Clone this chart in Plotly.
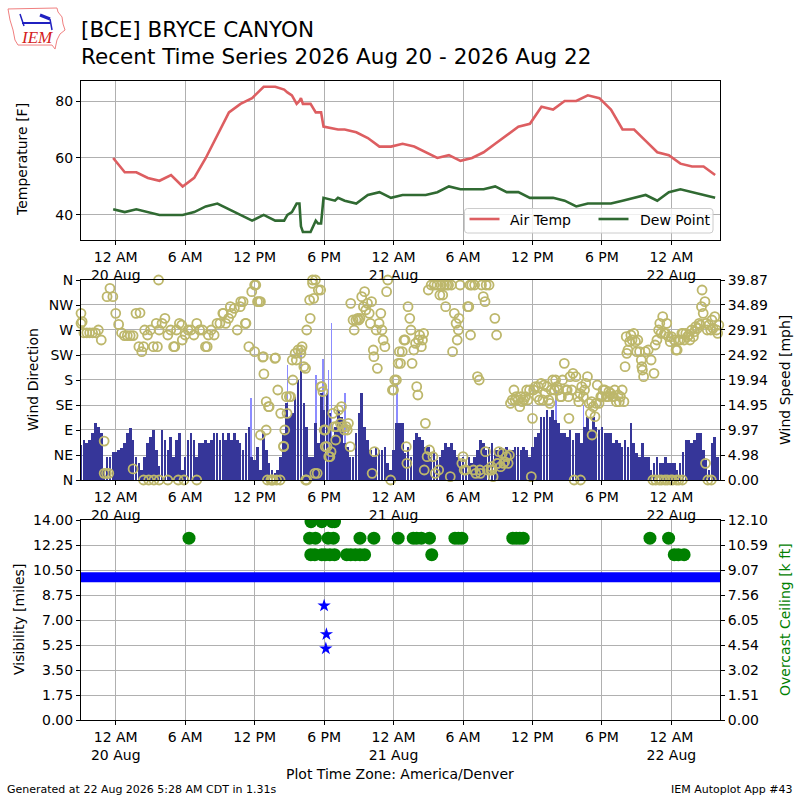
import pandas as pd
import plotly.graph_objects as go

BASE = pd.Timestamp("2026-08-20 00:00")
W, H = 800, 800

# ---------------- data (hours relative to 20 Aug 00:00 local) ----------------
temp_hours = [-0.22, 0.78, 1.78, 2.78, 3.78, 4.78, 5.78, 6.78, 7.78, 8.78, 9.78, 10.78,
              11.78, 12.78, 13.78, 14.55, 14.83, 15.22, 15.63, 15.87, 16.0, 16.17, 16.83,
              17.28, 17.48, 17.74, 17.95, 18.94, 19.2, 19.78, 20.78, 21.78, 22.78, 23.78,
              24.78, 25.78, 26.78, 27.78, 28.78, 29.78, 30.78, 31.78, 32.78, 33.78, 34.78,
              35.78, 36.78, 37.78, 38.78, 39.78, 40.78, 41.78, 42.78, 43.78, 44.78, 45.78,
              46.78, 47.78, 48.78, 49.78, 50.78, 51.78]
air_temp = [60, 55, 55, 53, 52, 54, 50, 53, 60, 68, 76, 79, 81, 85, 85,
            84, 83, 82, 79, 80, 81, 79, 79, 76, 76, 76, 71, 70, 70,
            70, 69, 67, 64, 64, 65, 64, 62, 60, 61, 59, 60, 62, 65, 68, 71, 72, 78, 77,
            80, 80, 82, 81, 77, 70, 70, 66, 62, 61, 58, 57, 57, 54]
dew_point = [42, 41, 42, 41, 40, 40, 40, 41, 43, 44, 42, 40, 38, 40, 38,
             38, 40, 41, 44, 44, 36, 34, 34, 38, 37, 37, 46, 45, 46,
             45, 44, 47, 48, 46, 47, 47, 47, 48, 50, 49, 49, 49, 50, 48, 48, 46, 46, 46,
             45, 43, 44, 44, 44, 45, 46, 47, 45, 48, 49, 48, 47, 46]

# wind: 15-minute samples starting 19 Aug 21:00
wind_start = "2026-08-19 21:00"
wind_speed = [
    7.0, 8.0, 7.3, 8.0,   9.3, 11.3, 10.6, 9.3,   2.0, 4.6, 4.6, 5.6,
    5.6, 6.0, 6.3, 7.3,   9.3, 10.3, 8.0, 4.6,    3.3, 2.0, 4.6, 7.3,
    8.6, 10.0, 6.0, 2.7,  10.0, 8.0, 6.0, 8.6,    4.6, 8.0, 9.3, 2.0,
    4.6, 8.0, 9.3, 8.0,   4.6, 7.3, 7.3, 8.0,     7.3, 8.0, 9.3, 9.3,
    8.0, 9.3, 8.0, 9.3,   8.0, 9.3, 8.0, 7.3,     6.0, 9.3, 10.6, 4.6,
    4.0, 6.6, 2.0, 9.3,   6.0, 3.3, 2.0, 1.3,     2.0, 4.6, 9.3, 15.3,
    12.6, 13.3, 16.6, 20.0, 22.6, 15.3, 10.6, 4.6, 4.6, 11.3, 7.3, 17.3,
    14.0, 17.3, 13.3, 8.6, 10.6, 14.0, 12.6, 7.3,  6.6, 4.6, 4.6, 9.3,
    13.3, 17.3, 10.6, 8.0, 6.0, 4.6, 6.6, 6.0,    6.0, 6.6, 3.3, 2.0,
    6.0, 11.3, 11.3, 11.3, 5.3, 6.6, 4.6, 8.0,    9.3, 8.6, 8.0, 6.6,
    6.6, 4.6, 6.0, 4.0,   4.6, 6.0, 7.3, 6.6,     7.3, 6.0, 4.6, 4.0,
    4.6, 4.0, 4.6, 3.3,   4.6, 6.0, 8.0, 7.3,     6.0, 6.6, 7.3, 6.0,
    6.0, 6.6, 6.0, 6.6,   6.0, 6.0, 6.6, 6.6,     6.0, 6.6, 6.0, 4.6,
    6.6, 8.6, 9.3, 12.6,  12.6, 14.0, 12.6, 14.0, 12.0, 11.3, 9.3, 9.3,
    8.6, 10.0, 8.0, 9.3,  9.3, 7.3, 10.6, 12.6,   10.0, 12.6, 10.6, 10.0,
    10.6, 9.3, 9.3, 9.3,  7.3, 8.0, 7.3, 6.6,     8.0, 6.6, 11.3, 7.3,
    5.3, 4.6, 7.3, 4.6,   4.6, 2.0, 3.3, 4.6,     3.3, 3.3, 4.6, 3.3,
    3.3, 3.3, 2.0, 3.3,   5.6, 8.0, 8.0, 7.3,     8.0, 9.3, 9.3, 6.0,
    4.0, 2.0, 7.3, 8.6,   4.6]
wind_dir = [
    282, 265, 265, 265,  265, 265, 270, 252,  70, 330, 345, 330,
    300, 280, 265, 260,  260, 260, 260, 300,  240, 231, 270, 261,
    270, 240, 282, 270,  282, 291, 261, 270,  240, 270, 282, 252,
    261, 270, 270, 261,  282, 270, 270, 240,  261, 270, 261, 282,
    282, 300, 282, 291,  300, 309, 270, 312,  321, 282, 240, 339,
    351, 321, 321, 222,  141, 132, 0, 219,    162, 120, 60, 150,
    150, 216, 228, 234,  228, 204, 0, 324,    354, 360, 342, 168,
    90, 60, 42, 120,     72, 126, 132, 90,    90, 60, 288, 288,
    288, 330, 339, 318,  282, 234, 270, 282,  270, 240, 360, 0,
    162, 180, 231, 231,  252, 312, 270, 234,  168, 261, 252, 102,
    342, 351, 351, 351,  333, 333, 312, 351,  351, 300, 252, 351,
    42, 18, 312, 351,    351, 186, 12, 330,   351, 351, 18, 291,
    30, 24, 30, 42,      45, 144, 144, 144,   150, 144, 162, 162,
    111, 168, 168, 174,  171, 168, 138, 180,  180, 162, 150, 210,
    162, 186, 192, 186,  141, 168, 162, 186,  120, 132, 138, 138,
    150, 162, 150, 156,  150, 141, 141, 162,  204, 234, 261, 264,
    231, 231, 198, 231,  234, 216, 192, 252,  282, 294, 264, 258,
    258, 252, 234, 252,  264, 264, 261, 270,  267, 273, 279, 300,
    282, 279, 288, 294,  264]

dir_extra_hours = [
    -3.0, -2.9, -1.0, -0.8, -0.6, 1.5, 2.1, 2.4, 2.4, 2.85, 3.3, 3.6, 3.7, 3.75, 4.5,
    5.1, 5.4, 5.7, 5.9, 7.0, 7.9, 9.3, 9.9, 10.8, 11.2, 12.0, 12.1, 12.4, 12.5, 12.7,
    12.8, 13.0, 13.1, 13.2, 13.4, 13.6, 13.8, 13.9, 14.2, 14.5, 14.6, 14.8, 15.1, 15.3,
    15.6, 16.0, 16.1, 16.4, 16.4, 16.5, 16.8, 17.0, 17.1, 17.2, 17.4, 17.7, 17.8, 17.9,
    18.1, 18.1, 18.4, 18.6, 18.9, 19.1, 19.4, 19.6, 19.9, 20.1, 20.3, 20.6, 20.9, 21.1,
    21.4, 21.6, 21.9, 22.1, 22.15, 22.3, 22.35, 22.6, 22.9, 23.1, 23.4, 23.9, 24.1,
    24.4, 24.6, 24.9, 25.1, 25.15, 25.4, 25.6, 25.9, 26.1, 26.15, 26.4, 26.6, 26.65,
    26.9, 27.1, 27.4, 27.6, 27.9, 28.1, 28.4, 28.6, 28.9, 29.1, 29.4, 29.6, 29.65,
    29.9, 30.1, 30.4, 30.6, 30.65, 30.9, 31.1, 31.4, 31.45, 31.6, 31.9, 31.95, 32.1,
    32.4, 32.45, 32.6, 32.9, 32.95, 33.1, 33.4, 33.6, 33.9, 34.1, 34.4, 34.6, 34.9,
    35.1, 35.4, 35.6, 35.9, 36.1, 36.4, 36.6, 36.9, 37.1, 37.4, 37.6, 37.9, 38.1,
    38.4, 38.6, 38.9, 39.1, 39.15, 39.4, 39.6, 39.9, 40.1, 40.15, 40.4, 40.6, 40.9,
    41.1, 41.15, 41.4, 41.6, 41.9, 42.1, 42.4, 42.6, 42.9, 43.1, 43.4, 43.6, 43.9,
    44.1, 44.15, 44.4, 44.6, 44.9, 45.1, 45.4, 45.45, 45.6, 46.4, 46.6, 46.65, 46.9,
    46.95, 47.1, 47.15, 47.4, 47.45, 47.6, 47.65, 47.9, 47.95, 48.1, 48.4, 48.45,
    48.6, 48.65, 48.9, 48.95, 49.1, 49.4, 49.6, 49.9, 50.1, 50.4, 50.6, 50.65, 50.9,
    50.95, 51.1, 51.15, 51.4, 51.45, 51.6, 51.9, 52.1]
dir_extra_deg = [
    300, 285, 12, 12, 12, 20, 301, 0, 240, 0, 0, 240, 360, 0, 0,
    240, 0, 279, 0, 0, 240, 300, 312, 321, 282, 231, 351, 321, 81, 221,
    191, 90, 0, 132, 0, 0, 220, 0, 0, 61, 90, 120, 150, 180,
    216, 234, 240, 201, 0, 270, 291, 360, 327, 12, 12, 342, 168, 159,
    90, 60, 42, 51, 96, 96, 102, 96, 96, 102, 318, 270, 291, 291,
    312, 306, 300, 321, 12, 222, 51, 201, 300, 252, 339, 162, 180,
    210, 210, 252, 60, 30, 291, 210, 246, 153, 252, 240, 264, 18,
    42, 54, 42, 12, 18, 351, 351, 351, 6, 231, 282, 270, 291,
    30, 18, 312, 351, 261, 18, 12, 180, 18, 351, 321, 51, 18,
    18, 24, 6, 261, 30, 51, 48, 33, 30, 138, 162, 150, 132,
    141, 150, 144, 6, 162, 150, 144, 144, 156, 144, 162, 162, 168,
    150, 180, 162, 150, 111, 162, 0, 150, 156, 0, 150, 174, 138,
    141, 81, 114, 171, 150, 162, 150, 159, 150, 162, 153, 150, 141,
    258, 228, 249, 252, 249, 252, 216, 204, 186, 0, 243, 0, 270,
    0, 264, 0, 264, 0, 282, 0, 249, 0, 0, 234, 0,
    252, 0, 264, 0, 252, 258, 252, 258, 276, 282, 312, 342, 321,
    30, 270, 0, 270, 0, 273, 270, 279]

gust_hours = [11.67, 14.83, 16.0, 17.3, 17.9, 18.36, 18.65, 19.8, 24.3, 38.05, 40.4]
gust_mph = [16.3, 22.9, 25.5, 21.0, 24.2, 21.9, 31.2, 17.3, 19.3, 18.0, 15.0]

vis_hours = [-3, -2, -1, 0, 1, 2, 3, 4, 5, 6, 7, 8, 9, 10, 11, 12, 13, 14, 15, 16, 17,
             18, 19, 20, 21, 22, 23, 24, 25, 26, 27, 28, 29, 30, 31, 32, 33, 34, 35, 36,
             37, 38, 39, 40, 41, 42, 43, 44, 45, 46, 47, 48, 49, 50, 51, 52, 52.2]
vis_miles = [10, 10, 10, 10, 10, 10, 10, 10, 10, 10, 10, 10, 10, 10, 10, 10, 10, 10, 10,
             10, 10, 10, 10, 10, 10, 10, 10, 10, 10, 10, 10, 10, 10, 10, 10, 10, 10, 10,
             10, 10, 10, 10, 10, 10, 10, 10, 10, 10, 10, 10, 10, 10, 10, 10, 10, 10, 10]
vis_low_hours = [18.0, 18.15, 18.2]
vis_low_miles = [8.0, 5.0, 6.0]

ceil_hours = [6.33, 16.87, 17.8, 18.7, 18.9, 16.75, 17.25, 18.35, 18.8, 16.85, 17.2,
              17.8, 18.1, 18.5, 18.9, 19.95, 20.3, 20.7, 21.1, 21.5, 21.1, 22.3, 24.4,
              25.7, 26.0, 26.4, 27.1, 27.3, 29.3, 29.6, 29.9, 34.3, 34.6, 34.9, 35.2,
              46.15, 47.76, 48.25, 48.6, 49.1]
ceil_kft = [11, 12, 12, 12, 12, 11, 11, 11, 11, 10, 10,
            10, 10, 10, 10, 10, 10, 10, 10, 10, 11, 11, 11,
            11, 11, 11, 11, 10, 11, 11, 11, 11, 11, 11, 11,
            11, 11, 10, 10, 10]

tick_hours = [0, 6, 12, 18, 24, 30, 36, 42, 48]
tick_text = ["12 AM<br>20 Aug", "6 AM", "12 PM", "6 PM", "12 AM<br>21 Aug",
             "6 AM", "12 PM", "6 PM", "12 AM<br>22 Aug"]
dir_ticks = [0, 45, 90, 135, 180, 225, 270, 315, 360]
dir_labels = ["N", "NE", "E", "SE", "S", "SW", "W", "NW", "N"]
speed_ticks = [0, 4.98, 9.97, 14.95, 19.94, 24.92, 29.91, 34.89, 39.87]
vis_ticks = [0, 1.75, 3.5, 5.25, 7.0, 8.75, 10.5, 12.25, 14.0]
ceil_ticks = [0, 1.5125, 3.025, 4.5375, 6.05, 7.5625, 9.075, 10.5875, 12.1]
ceil_labels = ["0.00", "1.51", "3.02", "4.54", "6.05", "7.56", "9.07", "10.59", "12.10"]
legend_names = ["Air Temp", "Dew Point"]


# ---------------- helpers ----------------
def at(hours):
    return [BASE + pd.Timedelta(hours=h) for h in hours]


def px(x):
    return x / W


def py(y):
    return 1 - y / H


wind_times = pd.date_range(wind_start, periods=len(wind_speed), freq="15min")

FONT = "DejaVu Sans"
GRID = "#b0b0b0"
TEMP_C = "#dd5e61"
DEW_C = "#306a32"
BAR_C = "#363699"
GUST_C = "#8c8cff"
DIR_C = "#bdb76b"

fig = go.Figure()

# panel 1
fig.add_trace(go.Scatter(x=at(temp_hours), y=air_temp, mode="lines", name=legend_names[0],
                         line=dict(color=TEMP_C, width=2.6), xaxis="x", yaxis="y", showlegend=False))
fig.add_trace(go.Scatter(x=at(temp_hours), y=dew_point, mode="lines", name=legend_names[1],
                         line=dict(color=DEW_C, width=2.6), xaxis="x", yaxis="y", showlegend=False))

# panel 2
fig.add_trace(go.Bar(x=at(gust_hours), y=gust_mph, width=150000, marker=dict(color=GUST_C, line=dict(width=0)),
                     showlegend=False, xaxis="x2", yaxis="y2"))
fig.add_trace(go.Bar(x=wind_times, y=wind_speed, width=810000, marker=dict(color=BAR_C, line=dict(width=0)),
                     showlegend=False, xaxis="x2", yaxis="y2"))
fig.add_trace(go.Scatter(x=list(wind_times) + at(dir_extra_hours), y=wind_dir + dir_extra_deg,
                         mode="markers", showlegend=False,
                         marker=dict(symbol="circle-open", size=9, color=DIR_C, line=dict(width=1.8, color=DIR_C)),
                         xaxis="x2", yaxis="y4", cliponaxis=False))

# panel 3
fig.add_trace(go.Scatter(x=at(vis_hours), y=vis_miles, mode="lines", showlegend=False,
                         line=dict(color="#0000ff", width=10), xaxis="x3", yaxis="y3"))
fig.add_trace(go.Scatter(x=at(vis_low_hours), y=vis_low_miles, mode="markers", showlegend=False,
                         marker=dict(symbol="star", size=10, color="#0000ff"), xaxis="x3", yaxis="y3"))
fig.add_trace(go.Scatter(x=at(ceil_hours), y=ceil_kft, mode="markers", showlegend=False,
                         marker=dict(symbol="circle", size=13, color="#008000"), xaxis="x3", yaxis="y5"))

X0 = BASE + pd.Timedelta(hours=-3.0)
X1 = BASE + pd.Timedelta(hours=52.2)
xdom = [px(81), px(720)]
xcommon = dict(type="date", range=[X0, X1], tickvals=at(tick_hours), ticktext=tick_text,
               showgrid=True, gridcolor=GRID, gridwidth=1, showline=True, linecolor="black",
               linewidth=1, mirror=True, ticks="outside", ticklen=4, tickcolor="black",
               tickfont=dict(size=14, color="black"), domain=xdom, zeroline=False,
               automargin=False)
ycommon = dict(showline=True, linecolor="black", linewidth=1, ticks="outside", ticklen=4,
               tickcolor="black", tickfont=dict(size=14, color="black"), zeroline=False,
               automargin=False)

fig.update_layout(
    template="none",
    width=W, height=H, autosize=False,
    margin=dict(l=0, r=0, t=0, b=0, pad=0),
    paper_bgcolor="white", plot_bgcolor="white",
    font=dict(family=FONT, size=14, color="black"),
    barmode="overlay", bargap=0,
    xaxis=dict(**xcommon, anchor="y"),
    xaxis2=dict(**xcommon, anchor="y2"),
    xaxis3=dict(**xcommon, anchor="y3"),
    yaxis=dict(**ycommon, domain=[py(240), py(80.5)], range=[31.2, 87.2], tickvals=[40, 60, 80],
               showgrid=True, gridcolor=GRID, mirror=True, anchor="x"),
    yaxis2=dict(**ycommon, domain=[py(480), py(280)], range=[0, 39.87], side="right",
                tickvals=speed_ticks, ticktext=["%.2f" % v for v in speed_ticks],
                showgrid=True, gridcolor=GRID, mirror=True, anchor="x2"),
    yaxis4=dict(**ycommon, range=[0, 360], side="left", overlaying="y2", anchor="x2",
                tickvals=dir_ticks, ticktext=dir_labels, showgrid=False),
    yaxis3=dict(**ycommon, domain=[py(720), py(520)], range=[0, 14], tickvals=vis_ticks,
                ticktext=["%.2f" % v for v in vis_ticks], showgrid=True, gridcolor=GRID,
                mirror=True, anchor="x3"),
    yaxis5=dict(**ycommon, range=[0, 12.1], side="right", overlaying="y3", anchor="x3",
                tickvals=ceil_ticks, ticktext=ceil_labels, showgrid=False),
    showlegend=False,
)

ann = []


def text(x, y, s, size=14, xanchor="left", yanchor="middle", color="black", angle=0, family=FONT):
    ann.append(dict(x=px(x), y=py(y), xref="paper", yref="paper", text=s, showarrow=False,
                    xanchor=xanchor, yanchor=yanchor, textangle=angle,
                    font=dict(size=size, color=color, family=family)))


text(79, 30, "[BCE] BRYCE CANYON", size=21.5)
text(79, 56, "Recent Time Series 2026 Aug 20 - 2026 Aug 22", size=21.5)
text(22, 160, "Temperature [F]", xanchor="center", angle=-90)
text(33, 380, "Wind Direction", xanchor="center", angle=-90)
text(785, 380, "Wind Speed [mph]", xanchor="center", angle=-90)
text(19, 620, "Visibility [miles]", xanchor="center", angle=-90)
text(785, 620, "Overcast Ceiling [k ft]", xanchor="center", angle=-90, color="#008000")
text(400, 774, "Plot Time Zone: America/Denver", xanchor="center")
text(5, 789, "Generated at 22 Aug 2026 5:28 AM CDT in 1.31s", size=11)
text(795, 789, "IEM Autoplot App #43", size=11, xanchor="right")
text(37, 37, "<i>IEM</i>", size=17, xanchor="center", color="#d42020", family="Liberation Serif")

# legend (drawn like the matplotlib legend box)
text(508, 219.5, legend_names[0])
text(637.5, 219.5, legend_names[1])
fig.update_layout(annotations=ann)


def rounded_box(x0, y0, x1, y1, r):
    pts = ("M %f,%f L %f,%f Q %f,%f %f,%f L %f,%f Q %f,%f %f,%f L %f,%f Q %f,%f %f,%f "
           "L %f,%f Q %f,%f %f,%f Z") % (
        px(x0 + r), py(y0), px(x1 - r), py(y0), px(x1), py(y0), px(x1), py(y0 + r),
        px(x1), py(y1 - r), px(x1), py(y1), px(x1 - r), py(y1),
        px(x0 + r), py(y1), px(x0), py(y1), px(x0), py(y1 - r),
        px(x0), py(y0 + r), px(x0), py(y0), px(x0 + r), py(y0))
    return pts


fig.add_shape(type="path", path=rounded_box(464.5, 208.5, 713, 233, 3), xref="paper", yref="paper",
              line=dict(color="#cccccc", width=1), fillcolor="rgba(255,255,255,0.8)", layer="above")
fig.add_shape(type="line", x0=px(469.5), x1=px(499.5), y0=py(219), y1=py(219), xref="paper", yref="paper",
              line=dict(color=TEMP_C, width=2.6), layer="above")
fig.add_shape(type="line", x0=px(598.5), x1=px(628.5), y0=py(219), y1=py(219), xref="paper", yref="paper",
              line=dict(color=DEW_C, width=2.6), layer="above")

# logo outline (decoration)
outline = [(8, 9), (57, 8), (58, 12), (62, 17), (63, 24), (65, 30), (60, 34), (57, 40),
           (55, 49), (52, 45), (18, 45), (15, 40), (13, 30), (10, 20)]
path = "M " + " L ".join("%.4f,%.4f" % (px(a), py(b)) for a, b in outline) + " Z"
fig.add_shape(type="path", path=path, xref="paper", yref="paper",
              line=dict(color="#f08080", width=1))
fig.add_shape(type="line", x0=px(22), y0=py(23), x1=px(50), y1=py(23), xref="paper", yref="paper",
              line=dict(color="#2020c0", width=2))
fig.add_shape(type="line", x0=px(20), y0=py(14), x1=px(24), y1=py(26), xref="paper", yref="paper",
              line=dict(color="#2020c0", width=1.5))
fig.add_shape(type="line", x0=px(40), y0=py(15), x1=px(50), y1=py(19), xref="paper", yref="paper",
              line=dict(color="#2020c0", width=3))
fig.add_shape(type="line", x0=px(50), y0=py(19), x1=px(52), y1=py(30), xref="paper", yref="paper",
              line=dict(color="#2020c0", width=1.5))

fig.write_html("out.html", config={"displayModeBar": False},
               post_script="document.body.style.margin='0';document.body.style.padding='0';"
                           "document.body.style.overflow='hidden';")
